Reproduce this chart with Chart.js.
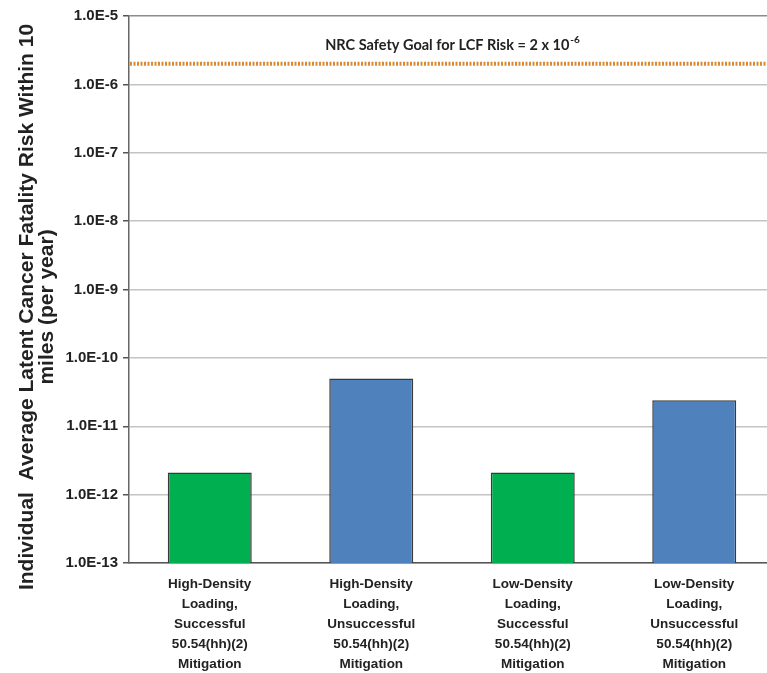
<!DOCTYPE html>
<html>
<head>
<meta charset="utf-8">
<script src="https://cdn.jsdelivr.net/npm/chart.js@4/dist/chart.umd.min.js"></script>
<style>
  html, body { margin: 0; padding: 0; background: #fff; overflow: hidden; }
  #wrap { width: 775px; height: 673px; }
</style>
</head>
<body>
<div id="wrap"><canvas id="chart"></canvas></div>
<script>
// Datos
const categories = [
    ['High-Density', 'Loading,', 'Successful', '50.54(hh)(2)', 'Mitigation'],
    ['High-Density', 'Loading,', 'Unsuccessful', '50.54(hh)(2)', 'Mitigation'],
    ['Low-Density', 'Loading,', 'Successful', '50.54(hh)(2)', 'Mitigation'],
    ['Low-Density', 'Loading,', 'Unsuccessful', '50.54(hh)(2)', 'Mitigation']
];
const riskValues = [2.1e-12, 5.0e-11, 2.1e-12, 2.4e-11];
const barColors = ['#00B050', '#4F81BD', '#00B050', '#4F81BD'];
const tickValues = [1e-13, 1e-12, 1e-11, 1e-10, 1e-9, 1e-8, 1e-7, 1e-6, 1e-5];
const safetyGoal = 2e-6;
const goalLabel = 'NRC Safety Goal for LCF Risk = 2 x 10';
const goalExponent = '-6';
const yTitleLines = ['Individual  Average Latent Cancer Fatality Risk Within 10', 'miles (per year)'];

// Línea de la meta de seguridad (dibujada con la escala Y)
const goalLinePlugin = {
    id: 'goalLine',
    afterDatasetsDraw: (chart) => {
        const { ctx, chartArea } = chart;
        const y = chart.scales.y.getPixelForValue(safetyGoal);
        ctx.save();
        ctx.strokeStyle = '#D98A33';
        ctx.lineWidth = 4;
        ctx.setLineDash([2, 1.5]);
        ctx.beginPath();
        ctx.moveTo(chartArea.left + 1, y);
        ctx.lineTo(chartArea.right, y);
        ctx.stroke();
        ctx.setLineDash([]);

        ctx.fillStyle = '#222';
        ctx.textBaseline = 'alphabetic';
        ctx.font = 'bold 14.5px Lato';
        const w = ctx.measureText(goalLabel).width;
        ctx.font = 'bold 10px Lato';
        const we = ctx.measureText(goalExponent).width;
        const x0 = 452 - (w + we) / 2;
        ctx.font = 'bold 14.5px Lato';
        ctx.fillText(goalLabel, x0, y - 14);
        ctx.font = 'bold 10px Lato';
        ctx.fillText(goalExponent, x0 + w + 1, y - 21);
        ctx.restore();
    }
};

// Título del eje Y en dos líneas
const yTitlePlugin = {
    id: 'yTitle',
    afterDraw: (chart) => {
        const { ctx } = chart;
        ctx.save();
        ctx.fillStyle = '#222';
        ctx.font = 'bold 21px "Liberation Sans", Arial';
        ctx.textAlign = 'center';
        ctx.textBaseline = 'alphabetic';
        ctx.translate(33, 307);
        ctx.rotate(-Math.PI / 2);
        ctx.fillText(yTitleLines[0], 0, 0);
        ctx.fillText(yTitleLines[1], 0, 20);
        ctx.restore();
    }
};

const ctx = document.getElementById('chart');
new Chart(ctx, {
    type: 'bar',
    data: {
        labels: categories,
        datasets: [{
            data: riskValues,
            backgroundColor: barColors,
            borderColor: '#3a3a3a',
            borderWidth: 1.5,
            borderSkipped: 'bottom',
            barPercentage: 0.52,
            categoryPercentage: 1.0
        }]
    },
    options: {
        responsive: true,
        maintainAspectRatio: false,
        animation: false,
        layout: { padding: { top: 16, left: 0, right: 0, bottom: 0 } },
        plugins: {
            legend: { display: false },
            tooltip: { enabled: false }
        },
        scales: {
            x: {
                grid: { display: false, drawTicks: false },
                border: { color: '#555', width: 1.5 },
                ticks: {
                    color: '#222',
                    font: { family: '"Liberation Sans", Arial', size: 13.5, weight: 'bold', lineHeight: 1.48 },
                    padding: 11,
                    maxRotation: 0,
                    autoSkip: false
                },
                afterFit: (scale) => { scale.height = 110; }
            },
            y: {
                type: 'logarithmic',
                min: 1e-13,
                max: 1e-5,
                afterBuildTicks: (scale) => {
                    scale.ticks = tickValues.map(v => ({ value: v }));
                },
                grid: {
                    color: (c) => c.tick && c.tick.value === 1e-5 ? '#8c8c8c' : '#c4c4c4',
                    lineWidth: 1.5,
                    tickLength: 6,
                    tickColor: '#555'
                },
                border: { color: '#666', width: 1.5 },
                ticks: {
                    color: '#222',
                    font: { family: '"Liberation Sans", Arial', size: 15, weight: 'bold' },
                    padding: 5,
                    callback: (value) => Number(value).toExponential(1).toUpperCase()
                },
                afterFit: (scale) => { scale.width = 129; }
            }
        }
    },
    plugins: [goalLinePlugin, yTitlePlugin]
});
</script>
</body>
</html>
